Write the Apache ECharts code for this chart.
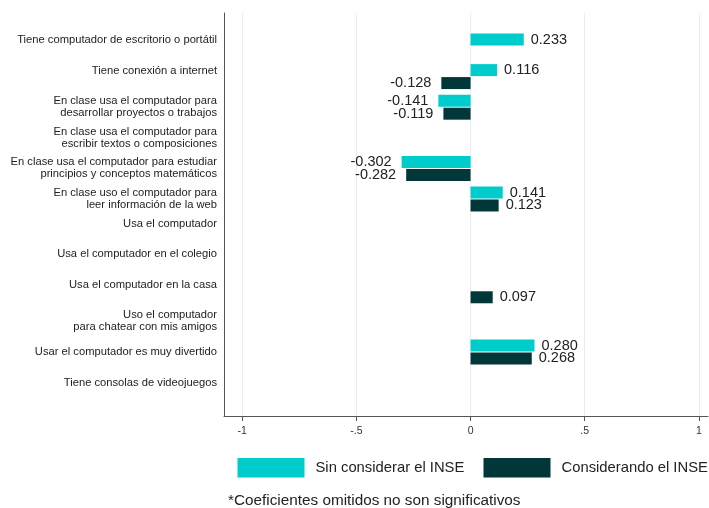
<!DOCTYPE html>
<html>
<head>
<meta charset="utf-8">
<script src="https://cdn.jsdelivr.net/npm/echarts@6/dist/echarts.min.js"></script>
<style>
  html, body { margin: 0; padding: 0; background: #fff; }
  #chart { width: 709px; height: 508px; }
</style>
</head>
<body>
<div id="chart"></div>
<script>
// Coefficients per item, with and without controlling for INSE
const categories = [
  'Tiene computador de escritorio o portátil',
  'Tiene conexión a internet',
  'En clase usa el computador para\ndesarrollar proyectos o trabajos',
  'En clase usa el computador para\nescribir textos o composiciones',
  'En clase usa el computador para estudiar\nprincipios y conceptos matemáticos',
  'En clase uso el computador para\nleer información de la web',
  'Usa el computador',
  'Usa el computador en el colegio',
  'Usa el computador en la casa',
  'Uso el computador\npara chatear con mis amigos',
  'Usar el computador es muy divertido',
  'Tiene consolas de videojuegos'
];
const sinInse = [0.233, 0.116, -0.141, null, -0.302, 0.141, null, null, null, null, 0.280, null];
const conInse = [null, -0.128, -0.119, null, -0.282, 0.123, null, null, 0.097, null, 0.268, null];
const seriesNames = ['Sin considerar el INSE', 'Considerando el INSE'];
const tickValues = [-1, -0.5, 0, 0.5, 1];
const tickLabels = ['-1', '-.5', '0', '.5', '1'];
const footnote = '*Coeficientes omitidos no son significativos';

const FONT = '"Liberation Sans", Arial, Helvetica, sans-serif';
const X_MIN = -1.08, X_MAX = 1.04;
// single-line labels that sit a half line above their row
const raisedRows = [0, 1, 6, 7, 8];

function barData(values) {
  return values.map(v => v === null ? null : {
    value: v,
    label: { position: v < 0 ? 'left' : 'right', distance: v < 0 ? 10 : 7 }
  });
}

const legendBase = {
  top: 458, itemWidth: 67, itemHeight: 19.5, icon: 'rect', padding: 0,
  textStyle: { fontSize: 14.8, color: '#222', fontFamily: FONT, padding: [0, 0, 0, 6] }
};

const chart = echarts.init(document.getElementById('chart'), null, { renderer: 'canvas' });
chart.setOption({
  animation: false,
  textStyle: { fontFamily: FONT },
  color: ['#00CCCC', '#02373A'],
  grid: [
    { left: 224, right: 1, top: 13, bottom: 92 },
    { left: 224, right: 1, top: 30.7, bottom: 110.1 }
  ],
  xAxis: [
    {
      gridIndex: 0, type: 'value', min: X_MIN, max: X_MAX,
      axisLine: { show: true, onZero: false, lineStyle: { color: '#555', width: 1 } },
      axisTick: { show: true, customValues: tickValues, length: 5, lineStyle: { color: '#555' } },
      axisLabel: {
        customValues: tickValues, margin: 10, fontSize: 10.5, color: '#333', fontFamily: FONT,
        formatter: v => tickLabels[tickValues.indexOf(v)] ?? ''
      },
      splitLine: { show: true, lineStyle: { color: '#e6eef3', width: 1 } }
    },
    { gridIndex: 1, type: 'value', min: X_MIN, max: X_MAX, show: false }
  ],
  yAxis: [
    {
      gridIndex: 0, type: 'value', min: 0, max: 1,
      axisLine: { show: true, onZero: false, lineStyle: { color: '#555', width: 1 } },
      axisTick: { show: false }, axisLabel: { show: false }, splitLine: { show: false }
    },
    {
      gridIndex: 1, type: 'category', inverse: true, data: categories,
      axisLine: { show: false }, axisTick: { show: false }, splitLine: { show: false },
      axisLabel: {
        margin: 7, fontSize: 11.2, lineHeight: 12, color: '#222', fontFamily: FONT, align: 'right',
        formatter: (v, i) => raisedRows.includes(i) ? v + '\n ' : v
      }
    }
  ],
  legend: [
    Object.assign({ left: 237.5, data: [seriesNames[0]] }, legendBase),
    Object.assign({ left: 483.5, data: [seriesNames[1]] }, legendBase)
  ],
  title: {
    text: footnote, left: 228, top: 493, padding: 0,
    textStyle: { fontSize: 15.3, fontWeight: 'normal', color: '#222', fontFamily: FONT }
  },
  series: [
    {
      name: seriesNames[0], type: 'bar', xAxisIndex: 1, yAxisIndex: 1,
      barWidth: 12, barGap: '8%', data: barData(sinInse),
      label: { show: true, fontSize: 14.5, color: '#222', fontFamily: FONT, formatter: p => p.value.toFixed(3) }
    },
    {
      name: seriesNames[1], type: 'bar', xAxisIndex: 1, yAxisIndex: 1,
      barWidth: 12, barGap: '8%', data: barData(conInse),
      label: { show: true, fontSize: 14.5, color: '#222', fontFamily: FONT, formatter: p => p.value.toFixed(3) }
    }
  ]
});
</script>
</body>
</html>
